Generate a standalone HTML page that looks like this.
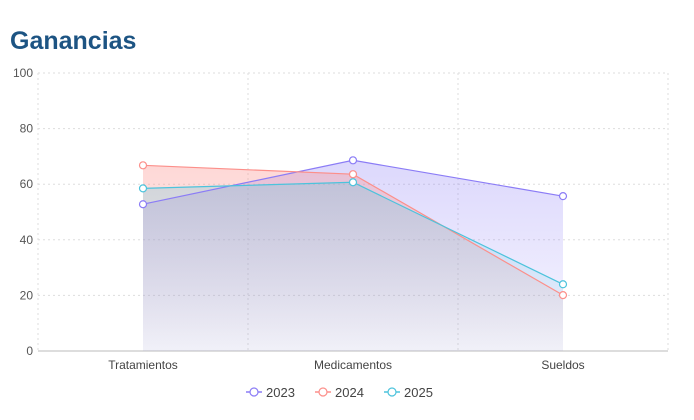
<!DOCTYPE html>
<html><head><meta charset="utf-8"><style>
body{margin:0;background:#fff;width:694px;height:420px;overflow:hidden;font-family:"Liberation Sans",sans-serif}
h1{position:absolute;left:10px;top:27px;margin:0;font-size:25px;font-weight:bold;color:#1d5483}
svg{position:absolute;left:0;top:0}
</style></head><body>
<h1>Ganancias</h1>
<svg id="c" width="694" height="420">
<defs>
<linearGradient id="g0" x1="0" y1="0" x2="0" y2="1"><stop offset="0" stop-color="#8b7cf6" stop-opacity="0.3"/><stop offset="1" stop-color="#8b7cf6" stop-opacity="0.06"/></linearGradient>
<linearGradient id="g1" x1="0" y1="0" x2="0" y2="1"><stop offset="0" stop-color="#fc8f8a" stop-opacity="0.35"/><stop offset="1" stop-color="#fc8f8a" stop-opacity="0.04"/></linearGradient>
<linearGradient id="g2" x1="0" y1="0" x2="0" y2="1"><stop offset="0" stop-color="#4cc3dc" stop-opacity="0.25"/><stop offset="1" stop-color="#4cc3dc" stop-opacity="0.04"/></linearGradient>
</defs>
</svg>
<script>
const categories=["Tratamientos","Medicamentos","Sueldos"];
const seriesNames=["2023","2024","2025"];
const s2023=[52.8,68.6,55.7];
const s2024=[66.8,63.6,20.1];
const s2025=[58.5,60.7,24];
const yTicks=[0,20,40,60,80,100];
const colors=["#8b7cf6","#fc8f8a","#4cc3dc"];
const NS="http://www.w3.org/2000/svg";
const svg=document.getElementById('c');
const L=38,R=668,T=73,B=351;
const bw=(R-L)/categories.length;
const x=i=>L+bw*(i+0.5);
const y=v=>B-(v/100)*(B-T);
function mk(t,a,p){const e=document.createElementNS(NS,t);for(const k in a)e.setAttribute(k,a[k]);(p||svg).appendChild(e);return e;}
yTicks.forEach(t=>{
 if(t>0){const l=mk('line',{x1:L,x2:R,y1:y(t),y2:y(t),stroke:'#ddd','stroke-dasharray':'2 3'});
 
 }
 const tx=mk('text',{x:L-5,y:y(t)+4,'text-anchor':'end','font-size':12,fill:'#555'});tx.textContent=t;
 
 
});
for(let i=0;i<=categories.length;i++){
 const l=mk('line',{x1:L+bw*i,x2:L+bw*i,y1:T,y2:B,stroke:'#ddd','stroke-dasharray':'2 3'});
 
 
}
const ax=mk('line',{x1:L,x2:R,y1:B,y2:B,stroke:'#bbb'});


categories.forEach((c,i)=>{
 const t=mk('text',{x:x(i),y:B+18,'text-anchor':'middle','font-size':12,fill:'#444'});t.textContent=c;
 
 
});
const all=[s2023,s2024,s2025];
all.forEach((s,k)=>{
 let d='M'+x(0)+','+B;s.forEach((v,i)=>d+=' L'+x(i)+','+y(v));d+=' L'+x(s.length-1)+','+B+'Z';
 const a=mk('path',{d:d,fill:'url(#g'+k+')'});
 
 
});
all.forEach((s,k)=>{
 const pl=mk('polyline',{points:s.map((v,i)=>x(i)+','+y(v)).join(' '),fill:'none',stroke:colors[k],'stroke-width':1.2});
 
 
 s.forEach((v,i)=>{
  const c=mk('circle',{cx:x(i),cy:y(v),r:3.5,fill:'#fff',stroke:colors[k],'stroke-width':1.2});
  
  
 });
});
const lx=[246,315,384];
seriesNames.forEach((n,k)=>{
 const g=mk('g',{});
 
 
 mk('line',{x1:lx[k],x2:lx[k]+16,y1:392,y2:392,stroke:colors[k],'stroke-width':1.5},g);
 mk('circle',{cx:lx[k]+8,cy:392,r:4,fill:'#fff',stroke:colors[k],'stroke-width':1.2},g);
 const t=mk('text',{x:lx[k]+20,y:397,'font-size':13,fill:'#444'},g);t.textContent=n;
});
</script>
</body></html>
